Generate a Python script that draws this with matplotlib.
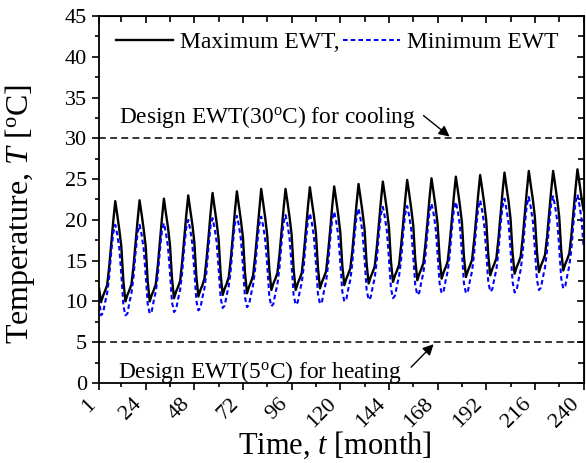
import numpy as np
import matplotlib
matplotlib.use('Agg')
import matplotlib.pyplot as plt

plt.rcParams['font.family'] = ['Liberation Serif', 'DejaVu Serif']
plt.rcParams['mathtext.fontset'] = 'custom'
plt.rcParams['mathtext.rm'] = 'Liberation Serif'
plt.rcParams['mathtext.it'] = 'Liberation Serif:italic'

# monthly entering water temperature, one row per year (months 1..12)
max_ewt = [
    [11.6, 9.9, 10.7, 11.3, 12.0, 14.2, 17.0, 19.8, 22.3, 20.6, 18.8, 16.7],
    [12.5, 10.0, 10.8, 11.4, 12.1, 14.3, 17.1, 19.9, 22.4, 20.7, 18.9, 16.8],
    [12.5, 10.0, 10.8, 11.4, 12.1, 14.4, 17.2, 20.1, 22.6, 20.8, 19.1, 16.9],
    [12.8, 10.4, 11.2, 11.8, 12.5, 14.8, 17.6, 20.5, 23.0, 21.2, 19.5, 17.3],
    [13.1, 10.6, 11.4, 12.0, 12.8, 15.1, 17.8, 20.8, 23.3, 21.5, 19.7, 17.6],
    [13.3, 10.8, 11.6, 12.2, 13.0, 15.2, 18.0, 21.0, 23.5, 21.7, 19.9, 17.8],
    [13.5, 11.0, 11.8, 12.4, 13.2, 15.5, 18.3, 21.2, 23.8, 22.0, 20.2, 18.0],
    [13.9, 11.4, 12.2, 12.8, 13.5, 15.7, 18.5, 21.3, 23.8, 22.1, 20.3, 18.2],
    [13.9, 11.4, 12.2, 12.8, 13.5, 15.8, 18.6, 21.5, 24.0, 22.2, 20.5, 18.3],
    [14.1, 11.6, 12.4, 13.0, 13.7, 16.0, 18.7, 21.6, 24.1, 22.4, 20.6, 18.5],
    [14.4, 12.0, 12.8, 13.4, 14.1, 16.3, 19.1, 21.9, 24.4, 22.7, 20.9, 18.8],
    [14.6, 12.2, 13.0, 13.6, 14.3, 16.6, 19.3, 22.2, 24.7, 23.0, 21.2, 19.1],
    [14.9, 12.4, 13.2, 13.8, 14.5, 16.8, 19.5, 22.4, 24.9, 23.2, 21.4, 19.3],
    [15.1, 12.6, 13.4, 14.0, 14.7, 17.0, 19.7, 22.6, 25.1, 23.4, 21.6, 19.5],
    [15.3, 12.8, 13.6, 14.2, 14.9, 17.2, 19.9, 22.8, 25.3, 23.6, 21.8, 19.7],
    [15.5, 13.0, 13.8, 14.4, 15.1, 17.4, 20.1, 23.0, 25.5, 23.8, 22.0, 19.9],
    [15.7, 13.2, 14.0, 14.6, 15.3, 17.6, 20.4, 23.3, 25.8, 24.0, 22.3, 20.1],
    [15.9, 13.4, 14.2, 14.8, 15.5, 17.8, 20.6, 23.5, 26.0, 24.2, 22.5, 20.3],
    [16.1, 13.6, 14.4, 15.0, 15.7, 17.9, 20.7, 23.5, 26.0, 24.3, 22.5, 20.4],
    [16.2, 13.8, 14.6, 15.2, 15.9, 18.1, 20.9, 23.7, 26.2, 24.5, 22.7, 21.2],
]
min_ewt = [
    [10.4, 8.3, 8.6, 9.9, 11.0, 13.0, 16.0, 18.4, 19.4, 18.2, 16.5, 13.3],
    [9.5, 8.3, 8.5, 9.9, 11.0, 13.0, 15.9, 18.4, 19.4, 18.2, 16.5, 13.3],
    [9.7, 8.5, 8.8, 10.1, 11.2, 13.2, 16.2, 18.6, 19.6, 18.4, 16.7, 13.5],
    [9.9, 8.7, 9.0, 10.3, 11.4, 13.5, 16.5, 19.0, 20.0, 18.8, 17.1, 13.8],
    [10.1, 8.9, 9.2, 10.5, 11.6, 13.6, 16.7, 19.2, 20.2, 19.0, 17.3, 14.0],
    [10.4, 9.2, 9.5, 10.8, 11.9, 13.9, 17.0, 19.5, 20.5, 19.3, 17.6, 14.3],
    [10.5, 9.3, 9.6, 10.9, 12.0, 14.0, 17.0, 19.4, 20.4, 19.2, 17.5, 14.3],
    [10.6, 9.4, 9.7, 11.0, 12.1, 14.1, 17.1, 19.6, 20.6, 19.4, 17.7, 14.4],
    [10.8, 9.6, 9.9, 11.2, 12.3, 14.3, 17.3, 19.8, 20.8, 19.6, 17.9, 14.6],
    [10.9, 9.7, 10.0, 11.3, 12.4, 14.5, 17.5, 20.0, 21.0, 19.8, 18.1, 14.8],
    [11.2, 10.0, 10.3, 11.6, 12.7, 14.8, 17.9, 20.4, 21.4, 20.1, 18.4, 15.1],
    [11.4, 10.2, 10.5, 11.8, 12.9, 15.0, 18.1, 20.6, 21.6, 20.3, 18.6, 15.3],
    [11.6, 10.4, 10.7, 12.0, 13.1, 15.1, 18.2, 20.7, 21.7, 20.5, 18.8, 15.5],
    [12.0, 10.8, 11.1, 12.4, 13.5, 15.5, 18.5, 21.0, 22.0, 20.8, 19.1, 15.8],
    [12.2, 11.0, 11.3, 12.6, 13.7, 15.7, 18.7, 21.2, 22.2, 21.0, 19.3, 16.0],
    [12.2, 11.0, 11.3, 12.6, 13.7, 15.8, 18.9, 21.4, 22.4, 21.1, 19.4, 16.1],
    [12.4, 11.2, 11.5, 12.8, 13.9, 16.0, 19.1, 21.6, 22.6, 21.3, 19.6, 16.3],
    [12.4, 11.1, 11.4, 12.7, 13.9, 16.0, 19.2, 21.8, 22.8, 21.5, 19.8, 16.4],
    [12.7, 11.4, 11.7, 13.0, 14.2, 16.2, 19.3, 21.9, 22.9, 21.6, 19.9, 16.6],
    [12.8, 11.6, 11.9, 13.2, 14.4, 16.4, 19.5, 22.1, 23.1, 21.8, 20.1, 16.8],
]
design_cooling = 30
design_heating = 5
xticks = [1, 24, 48, 72, 96, 120, 144, 168, 192, 216, 240]
xminor = [12, 36, 60, 84, 108, 132, 156, 180, 204, 228]

t = np.arange(1, 241)
ymax = np.ravel(max_ewt)
ymin = np.ravel(min_ewt)

fig = plt.figure(figsize=(5.86, 4.63), dpi=100)
ax = fig.add_axes([0.169, 0.1728, 0.8268, 0.7927])

ax.plot(t, ymax, color='k', lw=1.7, label='Maximum EWT,')
ax.plot(t, ymin, color='#0000ff', lw=1.5, dashes=(2.2, 1.5), label='Minimum EWT')
ax.axhline(design_cooling, color='k', lw=1.1, dashes=(4.5, 2.8))
ax.axhline(design_heating, color='k', lw=1.1, dashes=(4.5, 2.8))

ax.text(11, 32.6, 'Design EWT(30$^{\\rm o}$C) for cooling', fontsize=16.8, ha='left', va='center')
ax.annotate('', xy=(175, 30), xytext=(160, 33.0),
            arrowprops=dict(arrowstyle='-|>', color='k', lw=1, mutation_scale=16))
ax.text(10.5, 1.4, 'Design EWT(5$^{\\rm o}$C) for heating', fontsize=16.8, ha='left', va='center')
ax.annotate('', xy=(167, 5), xytext=(154, 1.7),
            arrowprops=dict(arrowstyle='-|>', color='k', lw=1, mutation_scale=16))

ax.set_xlim(1, 240)
ax.set_ylim(0, 45)
ax.set_xticks(xticks)
ax.set_xticks(xminor, minor=True)
ax.set_yticks(np.arange(0, 46, 5))
ax.set_yticks(np.arange(2.5, 45, 5), minor=True)
ax.set_xticklabels([str(v) for v in xticks], rotation=45, ha='right', va='top')
ax.tick_params(axis='both', which='major', labelsize=16, length=5, width=1.2, direction='out')
ax.tick_params(axis='both', which='minor', length=3, width=1.2, direction='out')
for s in ax.spines.values():
    s.set_linewidth(1.3)

# inward ticks on top and right
top = ax.secondary_xaxis('top')
top.set_xticks(xticks)
top.set_xticks(xminor, minor=True)
top.tick_params(which='major', direction='in', length=5, width=1.2, labeltop=False)
top.tick_params(which='minor', direction='in', length=4, width=1.2)
right = ax.secondary_yaxis('right')
right.set_yticks(np.arange(0, 46, 5))
right.set_yticks(np.arange(2.5, 45, 5), minor=True)
right.tick_params(which='major', direction='in', length=5, width=1.2, labelright=False)
right.tick_params(which='minor', direction='in', length=4, width=1.2)

ax.set_ylabel('Temperature, $T$ [$^{\\rm o}$C]', fontsize=23)
ax.yaxis.set_label_coords(-0.128, 0.46)
ax.set_xlabel('Time, $t$ [month]', fontsize=22)
ax.xaxis.set_label_coords(0.487, -0.128)

ax.legend(loc='center left', bbox_to_anchor=(0.036, 0.929), ncol=2, frameon=False,
          fontsize=17, handlelength=2.4, handletextpad=0.3, columnspacing=0.15,
          borderpad=0, borderaxespad=0)

fig.savefig('out.png', dpi=100)
